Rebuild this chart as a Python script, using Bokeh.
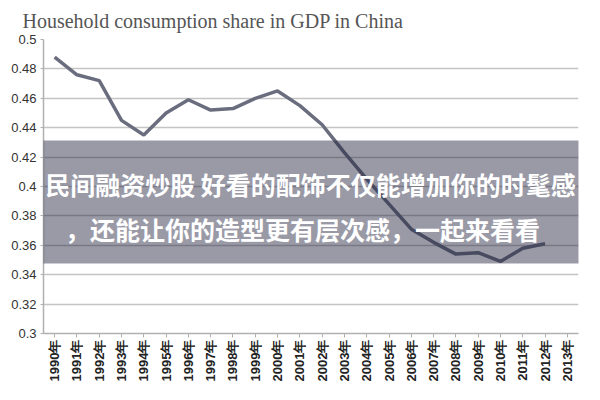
from bokeh.plotting import figure
from bokeh.models import FactorRange, Range1d, Label, FixedTicker, Title
from bokeh.embed import file_html
from bokeh.resources import INLINE
import math

years = [str(y) + "年" for y in range(1990, 2014)]
share = [0.488, 0.476, 0.472, 0.445, 0.435, 0.450, 0.459, 0.452, 0.453, 0.460,
         0.465, 0.455, 0.442, 0.423, 0.405, 0.388, 0.371, 0.362, 0.354, 0.355,
         0.349, 0.358, 0.361, float("nan")]
y_ticks = [0.30, 0.32, 0.34, 0.36, 0.38, 0.40, 0.42, 0.44, 0.46, 0.48, 0.50]
y_tick_labels = ["0.3", "0.32", "0.34", "0.36", "0.38", "0.4", "0.42", "0.44", "0.46", "0.48", "0.5"]
title_text = "Household consumption share in GDP in China"
overlay_line1 = "民间融资炒股 好看的配饰不仅能增加你的时髦感"
overlay_line2 = "，还能让你的造型更有层次感，一起来看看"

p = figure(width=584, height=384, x_range=FactorRange(factors=years),
           y_range=Range1d(0.30, 0.50), output_backend="svg", toolbar_location=None,
           min_border_left=43, min_border_right=6, min_border_top=38, min_border_bottom=51)
p.outline_line_color = None
p.background_fill_color = "white"
p.border_fill_color = "white"

p.line(years, share, line_color="#6a6d7e", line_width=3.5)

# axes
p.yaxis.ticker = FixedTicker(ticks=y_ticks)
p.yaxis.major_label_overrides = {t: l for t, l in zip(y_ticks, y_tick_labels)}
p.yaxis.axis_line_color = "#b0b0b0"
p.yaxis.axis_line_width = 1.5
p.yaxis.major_tick_line_color = "#b0b0b0"
p.yaxis.major_tick_in = 0
p.yaxis.major_tick_out = 3
p.yaxis.minor_tick_line_color = None
p.yaxis.major_label_text_font = "Liberation Sans"
p.yaxis.major_label_text_font_size = "13px"
p.yaxis.major_label_text_color = "#333333"
p.yaxis.major_label_standoff = 4

p.xaxis.axis_line_color = "#b0b0b0"
p.xaxis.axis_line_width = 1.5
p.xaxis.major_tick_line_color = "#b0b0b0"
p.xaxis.major_tick_in = 0
p.xaxis.major_tick_out = 4
p.xaxis.major_label_orientation = math.pi / 2
p.xaxis.major_label_text_font = "Liberation Sans"
p.xaxis.major_label_text_font_style = "bold"
p.xaxis.major_label_text_font_size = "13px"
p.xaxis.major_label_text_color = "#222222"
p.xaxis.major_label_standoff = 2

p.xgrid.grid_line_color = None
p.ygrid.grid_line_color = "#c4c4c4"
p.ygrid.grid_line_width = 1.5

p.title = Title(text=title_text, text_font="Liberation Serif", text_font_size="20px",
                text_font_style="normal", text_color="#555555", align="left",
                offset=-21, standoff=15)

# overlay band via a padded label background
band = Label(x=0, y=140, x_units="canvas", y_units="canvas", text=" ",
             text_font_size="1px", text_align="left", text_baseline="top",
             background_fill_color="#1e1e3c", background_fill_alpha=0.45,
             padding=(0, 600, 122, 0))
p.add_layout(band)

lab1 = Label(x=310, y=183, x_units="canvas", y_units="canvas", text=overlay_line1,
             text_font="Noto Sans CJK SC", text_font_style="bold", text_font_size="25px",
             text_color="white", text_align="center", text_baseline="middle")
lab2 = Label(x=302, y=228, x_units="canvas", y_units="canvas", text=overlay_line2,
             text_font="Noto Sans CJK SC", text_font_style="bold", text_font_size="25px",
             text_color="white", text_align="center", text_baseline="middle")
p.add_layout(lab1)
p.add_layout(lab2)

open("out.html", "w").write(file_html(p, INLINE))
